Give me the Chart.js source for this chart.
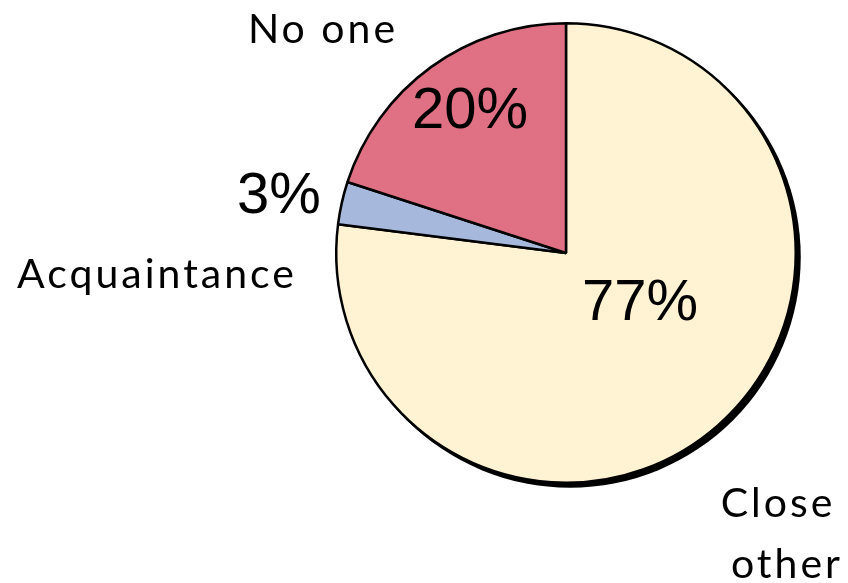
<!DOCTYPE html>
<html>
<head>
<meta charset="utf-8">
<script src="https://cdn.jsdelivr.net/npm/chart.js@4.4.1/dist/chart.umd.min.js"></script>
<style>
  html, body { margin: 0; padding: 0; background: #fff; }
  #wrap { width: 848px; height: 583px; }
</style>
</head>
<body>
<div id="wrap"><canvas id="chart" width="848" height="583"></canvas></div>
<script>
// data
const LABELS = ["Close other", "Acquaintance", "No one"];
const VALUES = [77, 3, 20];
const PCT_TEXT = ["77%", "3%", "20%"];
const COLORS = ["#FFF3D4", "#A6B8DB", "#E07084"];

// where the texts sit (canvas px)
const NAME_POS = [
  { lines: ["Close", "other"], x: [778, 787], y: [517, 578] },
  { lines: ["Acquaintance"], x: [157], y: [288] },
  { lines: ["No one"], x: [323], y: [43] }
];
const PCT_POS = [
  { x: 640, y: 320 },
  { x: 279, y: 213 },
  { x: 470, y: 128 }
];

// black drop shadow behind the pie
const shadowPlugin = {
  id: "shadow",
  beforeDatasetsDraw(chart) {
    const arc = chart.getDatasetMeta(0).data[0];
    if (!arc) return;
    const ctx = chart.ctx;
    ctx.save();
    ctx.beginPath();
    ctx.arc(arc.x + 4, arc.y + 4, arc.outerRadius + 1, 0, Math.PI * 2);
    ctx.fillStyle = "#000";
    ctx.fill();
    ctx.restore();
  }
};

// names + percentages
const textPlugin = {
  id: "texts",
  afterDatasetsDraw(chart) {
    const ctx = chart.ctx;
    ctx.save();
    ctx.fillStyle = "#000";
    ctx.textAlign = "center";
    ctx.textBaseline = "alphabetic";
    ctx.font = "41px Lato, 'DejaVu Sans', sans-serif";
    ctx.letterSpacing = "3px";
    NAME_POS.forEach(p => {
      p.lines.forEach((t, i) => ctx.fillText(t, p.x[i], p.y[i]));
    });
    ctx.letterSpacing = "0px";
    ctx.font = "58px 'Liberation Sans', Arial, sans-serif";
    PCT_TEXT.forEach((t, i) => ctx.fillText(t, PCT_POS[i].x, PCT_POS[i].y));
    ctx.restore();
  }
};

new Chart(document.getElementById("chart"), {
  type: "pie",
  data: {
    labels: LABELS,
    datasets: [{
      data: VALUES,
      backgroundColor: COLORS,
      borderColor: "#000",
      borderWidth: 2.5
    }]
  },
  options: {
    responsive: false,
    animation: false,
    layout: { padding: { left: 335, top: 22, right: 51, bottom: 99 } },
    plugins: {
      legend: { display: false },
      tooltip: { enabled: false }
    }
  },
  plugins: [shadowPlugin, textPlugin]
});
</script>
</body>
</html>
